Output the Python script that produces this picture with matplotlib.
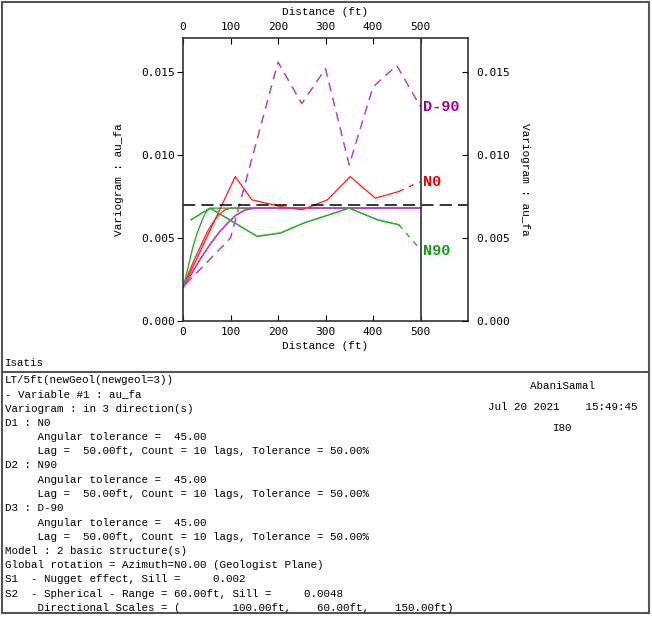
import matplotlib
matplotlib.use('Agg')
import matplotlib.pyplot as plt
from matplotlib.lines import Line2D

# experimental variograms (distance ft, variogram)
n0_x = [10, 110, 145, 205, 251, 304, 352, 405, 454]
n0_y = [0.0026, 0.0087, 0.0073, 0.0069, 0.0067, 0.0073, 0.0087, 0.0074, 0.0078]
n0_last = [0.0084]

n90_x = [17, 57, 156, 205, 254, 350, 409, 454]
n90_y = [0.0061, 0.0068, 0.0051, 0.0053, 0.0059, 0.0068, 0.0061, 0.0058]
n90_last = [0.0043]

d90_x = [5, 100, 200, 250, 300, 350, 400, 450, 500]
d90_y = [0.0022, 0.0050, 0.0156, 0.0131, 0.0152, 0.0094, 0.0141, 0.0154, 0.0129]

# fitted models
n0_mod_x = [0, 12, 25, 38, 50, 62, 75, 88, 100, 500]
n90_mod_x = [0, 8, 15, 22, 30, 38, 45, 52, 60, 500]
d90_mod_x = [0, 19, 37, 56, 75, 94, 112, 131, 150, 500]
mod_y = [0.0020, 0.0029, 0.00376, 0.00457, 0.0053, 0.0059, 0.00639, 0.00669, 0.0068, 0.0068]

variance = 0.00697
xticks = [0, 100, 200, 300, 400, 500]
yticks = [0.0, 0.005, 0.010, 0.015]

info_lines = [
    "LT/5ft(newGeol(newgeol=3))",
    "- Variable #1 : au_fa",
    "Variogram : in 3 direction(s)",
    "D1 : N0",
    "     Angular tolerance =  45.00",
    "     Lag =  50.00ft, Count = 10 lags, Tolerance = 50.00%",
    "D2 : N90",
    "     Angular tolerance =  45.00",
    "     Lag =  50.00ft, Count = 10 lags, Tolerance = 50.00%",
    "D3 : D-90",
    "     Angular tolerance =  45.00",
    "     Lag =  50.00ft, Count = 10 lags, Tolerance = 50.00%",
    "Model : 2 basic structure(s)",
    "Global rotation = Azimuth=N0.00 (Geologist Plane)",
    "S1  - Nugget effect, Sill =     0.002",
    "S2  - Spherical - Range = 60.00ft, Sill =     0.0048",
    "     Directional Scales = (        100.00ft,    60.00ft,    150.00ft)",
]

RED = '#ff2a2a'
GREEN = '#33aa33'
PURPLE = '#b444c4'
MONO = 'Liberation Mono'
W, H = 652, 617

fig = plt.figure(figsize=(W/100, H/100), dpi=100)
ax = fig.add_axes([183/W, 1-321/H, 285/W, 283/H])

# models
ax.plot(n0_mod_x, mod_y, color=RED, lw=1)
ax.plot(n90_mod_x, mod_y, color=GREEN, lw=1)
ax.plot(d90_mod_x, mod_y, color=PURPLE, lw=1.3)

# experimental
ax.plot(n0_x, n0_y, color=RED, lw=1)
ax.plot([n0_x[-1], 500], [n0_y[-1], n0_last[0]], color=RED, lw=1, dashes=(4, 4))
ax.plot(n90_x, n90_y, color=GREEN, lw=1.2)
ax.plot([n90_x[-1], 500], [n90_y[-1], n90_last[0]], color=GREEN, lw=1, dashes=(4, 4))
ax.plot(d90_x, d90_y, color=PURPLE, lw=1.1, dashes=(6, 4))

ax.axhline(variance, color='black', lw=1.1, dashes=(8, 4))
ax.axvline(500, color='#333333', lw=1.2)

ax.text(505, 0.0129, 'D-90', color='#990099', fontsize=11, fontweight='bold',
        family=MONO, va='center')
ax.text(505, 0.0084, 'N0', color='#ee0000', fontsize=11, fontweight='bold',
        family=MONO, va='center')
ax.text(505, 0.0042, 'N90', color='#119911', fontsize=11, fontweight='bold',
        family=MONO, va='center')

ax.set_xlim(0, 600)
ax.set_ylim(0, 0.01705)
ax.set_xticks(xticks)
ax.set_yticks(yticks)
ax.set_yticklabels(['%.3f' % v for v in yticks], family='DejaVu Sans Mono', fontsize=8)
ax.set_xticklabels([str(v) for v in xticks], family='DejaVu Sans Mono', fontsize=8)
ax.tick_params(axis='x', direction='in', length=4, pad=4, top=True, labeltop=True)
ax.tick_params(axis='y', direction='out', length=4, pad=2)
for s in ax.spines.values():
    s.set_color('#333333')
    s.set_linewidth(1.2)

ax.set_xlabel('Distance (ft)', family=MONO, fontsize=8, labelpad=3)
ax.set_ylabel('Variogram : au_fa', family=MONO, fontsize=8, labelpad=12)
fig.text(325/W, 1-12/H, 'Distance (ft)', family=MONO, fontsize=8, ha='center', va='center')

ax2 = ax.twinx()
ax2.set_ylim(ax.get_ylim())
ax2.set_yticks(yticks)
ax2.set_yticklabels(['%.3f' % v for v in yticks], family='DejaVu Sans Mono', fontsize=8)
ax2.tick_params(axis='y', direction='in', length=4, pad=6)
ax2.set_ylabel('Variogram : au_fa', family=MONO, fontsize=8, rotation=270,
               labelpad=14)
for s in ax2.spines.values():
    s.set_visible(False)

# frame and text panel
bc = '#555555'
def px_line(x0, y0, x1, y1, lw=1.5):
    fig.add_artist(Line2D([x0/W, x1/W], [1-y0/H, 1-y1/H], color=bc, lw=lw))

px_line(2, 2, 649, 2)
px_line(2, 2, 2, 613)
px_line(649, 2, 649, 613)
px_line(2, 613, 649, 613)
px_line(2, 372, 649, 372)

fig.text(5/W, 1-363/H, 'Isatis', family=MONO, fontsize=7.8, va='center')
for i, line in enumerate(info_lines):
    fig.text(5/W, 1-(380 + i*14.25)/H, line, family=MONO, fontsize=7.8, va='center')

fig.text(563/W, 1-386/H, 'AbaniSamal', family=MONO, fontsize=7.8, ha='center', va='center')
fig.text(563/W, 1-407/H, 'Jul 20 2021    15:49:45', family=MONO, fontsize=7.8,
         ha='center', va='center')
fig.text(563/W, 1-428/H, 'I80', family=MONO, fontsize=7.8, ha='center', va='center')

fig.savefig('out.png', dpi=100)
